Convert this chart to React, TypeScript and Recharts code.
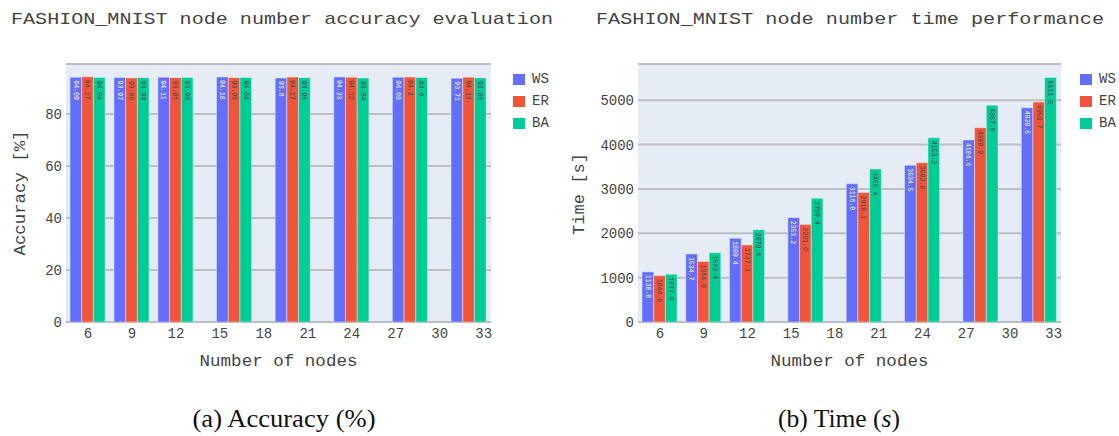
import React from 'react';
import { BarChart, Bar, XAxis, YAxis, CartesianGrid, Legend, LabelList } from 'recharts';

const nodes = [6, 9, 12, 16, 20, 24, 28, 32];
const seriesNames = ['WS', 'ER', 'BA'];
const seriesColors = ['#636efa', '#EF553B', '#00cc96'];
const labelColors = ['#ffffff', '#444444', '#444444'];

const accWS = [94.09, 93.97, 94.11, 94.18, 93.8, 94.23, 94.08, 93.71];
const accER = [94.27, 93.86, 93.96, 93.96, 94.17, 94.12, 94.2, 94.13];
const accBA = [94.04, 93.89, 93.98, 94.04, 93.96, 93.84, 94.0, 93.86];

const timeWS = [1130.8, 1534.7, 1889.4, 2353.2, 3116.0, 3534.5, 4104.6, 4828.5];
const timeER = [1044.0, 1364.0, 1737.3, 2201.0, 2918.1, 3592.0, 4380.9, 4959.7];
const timeBA = [1077.0, 1562.4, 2079.4, 2789.4, 3450.4, 4153.2, 4887.0, 5511.0];

const xTicks = [6, 9, 12, 15, 18, 21, 24, 27, 30, 33];
const accTicks = [0, 20, 40, 60, 80];
const timeTicks = [0, 1000, 2000, 3000, 4000, 5000];

const accData = nodes.map((n, i) => ({ nodes: n, WS: accWS[i], ER: accER[i], BA: accBA[i] }));
const timeData = nodes.map((n, i) => ({ nodes: n, WS: timeWS[i], ER: timeER[i], BA: timeBA[i] }));

const MONO = '"Liberation Mono", "DejaVu Sans Mono", monospace';
const SERIF = '"Liberation Serif", "DejaVu Serif", serif';
const TEXT = '#444';
const PLOT_BG = '#E5ECF6';
const GRID = '#bcbec4';

const fmtAcc = (v: number) => (Number.isInteger(v) ? v.toFixed(1) : String(v));
const fmtTime = (v: number) => v.toFixed(1);

const makeBarLabel = (color: string, fmt: (v: number) => string) => (props: any) => {
  const { x, y, width, value } = props;
  const cx = Number(x) + Number(width) / 2;
  const ty = Number(y) + 3;
  return (
    <text
      transform={`translate(${cx},${ty}) rotate(90)`}
      x={0}
      y={0}
      dy="0.35em"
      fontSize={6.5}
      fontFamily={MONO}
      fill={color}
      textAnchor="start"
    >
      {fmt(Number(value))}
    </text>
  );
};

const legendContent = () => (
  <div>
    {seriesNames.map((n, i) => (
      <div key={n} style={{ display: 'flex', alignItems: 'center', height: 22 }}>
        <span
          style={{
            display: 'inline-block',
            width: 12,
            height: 11,
            background: seriesColors[i],
            marginRight: 7,
          }}
        />
        <span style={{ fontFamily: MONO, fontSize: 14, color: TEXT }}>{n}</span>
      </div>
    ))}
  </div>
);

const tickStyle = { fontFamily: MONO, fontSize: 14, fill: TEXT };

type PanelProps = {
  data: any[];
  yDomain: [number, number];
  yTicks: number[];
  fmt: (v: number) => string;
  width: number;
  margin: { top: number; right: number; bottom: number; left: number };
  yWidth: number;
  legendLeft: number;
};

const Panel = ({ data, yDomain, yTicks, fmt, width, margin, yWidth, legendLeft }: PanelProps) => (
  <BarChart width={width} height={436} data={data} margin={margin} barGap={0} barSize={11.7}>
    <CartesianGrid vertical={false} stroke={GRID} strokeWidth={2} fill={PLOT_BG} />
    <XAxis
      type="number"
      dataKey="nodes"
      domain={[4.5, 33.5]}
      ticks={xTicks}
      interval={0}
      allowDataOverflow
      axisLine={false}
      tickLine={false}
      tickSize={0}
      tickMargin={6}
      height={30}
      tick={tickStyle}
    />
    <YAxis
      type="number"
      domain={yDomain}
      ticks={yTicks}
      interval={0}
      allowDataOverflow
      axisLine={false}
      tickLine={false}
      tickSize={0}
      tickMargin={4}
      width={yWidth}
      tick={tickStyle}
    />
    <Legend
      layout="horizontal"
      verticalAlign="middle"
      align="center"
      content={legendContent}
      wrapperStyle={{ left: legendLeft, top: 68, width: 60, height: 70 }}
    />
    {seriesNames.map((name, i) => (
      <Bar
        key={name}
        dataKey={name}
        name={name}
        fill={seriesColors[i]}
        stroke={PLOT_BG}
        strokeWidth={0.5}
        isAnimationActive={false}
      >
        <LabelList dataKey={name} content={makeBarLabel(labelColors[i], fmt)} />
      </Bar>
    ))}
  </BarChart>
);

export default function App() {
  return (
    <div style={{ position: 'absolute', left: 0, top: 0, width: 1119, height: 436, background: '#fff' }}>
      <div style={{ position: 'absolute', left: 0, top: 0 }}>
        <Panel
          data={accData}
          yDomain={[0, 99.2]}
          yTicks={accTicks}
          fmt={fmtAcc}
          width={560}
          margin={{ top: 64, right: 69, bottom: 84, left: 10 }}
          yWidth={56}
          legendLeft={513}
        />
      </div>
      <div style={{ position: 'absolute', left: 560, top: 0 }}>
        <Panel
          data={timeData}
          yDomain={[0, 5817]}
          yTicks={timeTicks}
          fmt={fmtTime}
          width={559}
          margin={{ top: 64, right: 58, bottom: 84, left: 18 }}
          yWidth={60}
          legendLeft={520}
        />
      </div>
      <svg
        width={1119}
        height={436}
        style={{ position: 'absolute', left: 0, top: 0, pointerEvents: 'none' }}
      >
        <text x={11} y={24} fontFamily={MONO} fontSize={17} fill={TEXT} textLength={542} lengthAdjust="spacingAndGlyphs">
          FASHION_MNIST node number accuracy evaluation
        </text>
        <text x={596} y={24} fontFamily={MONO} fontSize={17} fill={TEXT} textLength={508} lengthAdjust="spacingAndGlyphs">
          FASHION_MNIST node number time performance
        </text>
        <text x={278.5} y={366} textAnchor="middle" fontFamily={MONO} fontSize={17} fill={TEXT} textLength={158} lengthAdjust="spacingAndGlyphs">
          Number of nodes
        </text>
        <text x={849.5} y={366} textAnchor="middle" fontFamily={MONO} fontSize={17} fill={TEXT} textLength={158} lengthAdjust="spacingAndGlyphs">
          Number of nodes
        </text>
        <text transform="translate(25,193) rotate(-90)" textAnchor="middle" fontFamily={MONO} fontSize={17} fill={TEXT} textLength={125} lengthAdjust="spacingAndGlyphs">
          Accuracy [%]
        </text>
        <text transform="translate(584,194) rotate(-90)" textAnchor="middle" fontFamily={MONO} fontSize={17} fill={TEXT} textLength={82} lengthAdjust="spacingAndGlyphs">
          Time [s]
        </text>
        <text x={284} y={427} textAnchor="middle" fontFamily={SERIF} fontSize={25} fill="#111" textLength={183} lengthAdjust="spacingAndGlyphs">
          (a) Accuracy (%)
        </text>
        <text x={839} y={427} textAnchor="middle" fontFamily={SERIF} fontSize={25} fill="#111" textLength={122} lengthAdjust="spacingAndGlyphs">
          (b) Time (<tspan fontStyle="italic">s</tspan>)
        </text>
      </svg>
    </div>
  );
}
